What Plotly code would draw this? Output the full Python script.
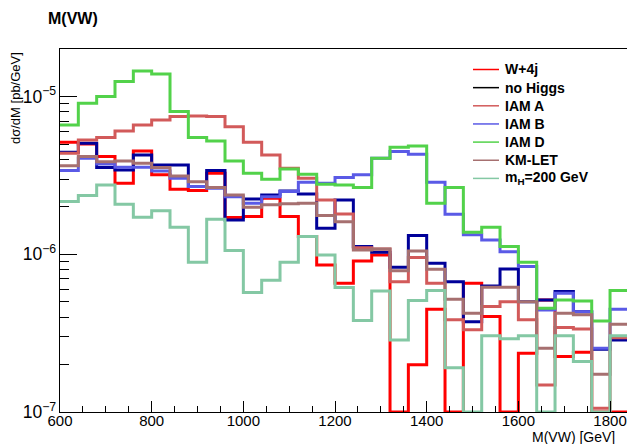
import plotly.graph_objects as go

# ---------------- data (40 GeV bins, 600 - 1840 GeV) ----------------
bin_edges = list(range(600, 1841, 40))

w4j = [5.14e-6, 5.01e-6, 4.17e-6, 2.82e-6, 4.52e-6, 3.19e-6, 2.585e-6, 2.535e-6, 3.27e-6, 1.71e-6,
       1.735e-6, 2.27e-6, 1.735e-6, 1.295e-6, 8.56e-7, 6.55e-7, 9.08e-7, 9.91e-7, 0, 1.99e-7,
       4.48e-7, 0, 6.55e-7, 4.03e-7, 0, 2.36e-7, 5.14e-7, 2.25e-7, 2.39e-7, 0, 0]
no_higgs = [4.44e-6, 5.06e-6, 3.55e-6, 3.43e-6, 4.27e-6, 3.69e-6, 3.69e-6, 2.69e-6, 3.40e-6, 1.65e-6,
            2.245e-6, 2.38e-6, 2.52e-6, 2.415e-6, 1.463e-6, 2.21e-6, 1.12e-6, 1.031e-6, 8.28e-7, 1.314e-6,
            8.78e-7, 6.71e-7, 3.74e-7, 6.3e-7, 8.08e-7, 5.01e-7, 5.14e-7, 5.80e-7, 4.33e-7, 2.5e-7, 2.86e-7]
iam_a = [4.37e-6, 5.31e-6, 5.50e-6, 6.06e-6, 6.61e-6, 7.11e-6, 7.47e-6, 7.54e-6, 7.47e-6, 6.45e-6,
         5.14e-6, 4.27e-6, 3.51e-6, 3.04e-6, 2.21e-6, 1.80e-6, 1.10e-6, 1.08e-6, 6.71e-7, 9.53e-7,
         6.55e-7, 3.84e-7, 3.32e-7, 4.66e-7, 5.01e-7, 3.84e-7, 1.485e-7, 3.43e-7, 3.36e-7, 1.056e-7, 2.96e-7]
iam_b = [3.40e-6, 4.06e-6, 3.74e-6, 3.57e-6, 3.57e-6, 3.38e-6, 3.04e-6, 2.69e-6, 2.62e-6, 2.32e-6,
         2.11e-6, 2.32e-6, 2.50e-6, 2.86e-6, 2.82e-6, 3.07e-6, 3.19e-6, 4.06e-6, 4.48e-6, 4.31e-6,
         2.86e-6, 1.795e-6, 1.33e-6, 1.234e-6, 1.04e-6, 8.36e-7, 4.44e-7, 5.66e-7, 4.33e-7, 2.54e-7, 4.48e-7]
iam_d = [6.61e-6, 9.08e-6, 1.00e-5, 1.245e-5, 1.455e-5, 1.393e-5, 8.04e-6, 5.50e-6, 5.24e-6, 3.91e-6,
         3.27e-6, 2.99e-6, 3.48e-6, 3.22e-6, 2.78e-6, 2.75e-6, 2.65e-6, 4.06e-6, 4.77e-6, 4.87e-6,
         2.11e-6, 2.65e-6, 1.38e-6, 1.485e-6, 1.12e-6, 8.91e-7, 4.55e-7, 5.14e-7, 5.06e-7, 3.78e-7, 5.89e-7]
km_let = [3.65e-6, 4.17e-6, 3.87e-6, 3.91e-6, 3.78e-6, 3.55e-6, 3.14e-6, 2.89e-6, 2.65e-6, 2.38e-6,
          1.99e-6, 2.06e-6, 2.09e-6, 2.11e-6, 1.76e-6, 1.61e-6, 1.066e-6, 1.08e-6, 7.88e-7, 1.05e-6,
          8.04e-7, 5.19e-7, 4.23e-7, 6.18e-7, 6.18e-7, 5.01e-7, 2.54e-7, 4.23e-7, 4.13e-7, 1.735e-7, 3.60e-7]
mh200 = [2.16e-6, 2.36e-6, 2.75e-6, 2.08e-6, 1.72e-6, 1.89e-6, 1.485e-6, 8.91e-7, 1.67e-6, 1.056e-6,
         5.72e-7, 6.85e-7, 8.91e-7, 1.295e-6, 9.91e-7, 6.15e-7, 3.80e-7, 5.86e-7, 2.86e-7, 5.09e-7,
         5.89e-7, 1.91e-7, 0, 3.05e-7, 2.91e-7, 3.05e-7, 0, 3.05e-7, 2.09e-7, 0, 3.04e-7]

series_names = ["W+4j", "no Higgs", "IAM A", "IAM B", "IAM D", "KM-LET", "m<sub>H</sub>=200 GeV"]
series_values = [w4j, no_higgs, iam_a, iam_b, iam_d, km_let, mh200]
line_colors = ["#ff0000", "#000099", "#d25a5a", "#5a5ae6", "#52d24a", "#a67070", "#84c8a4"]
legend_colors = ["#ff0000", "#000000", "#d25a5a", "#5a5ae6", "#52d24a", "#a67070", "#84c8a4"]

Y_MIN = 1e-7
Y_TOP_LOG = -4.698
X_MAX = 1837

# plot-area geometry in pixels (for placing legend / titles)
PX_L, PX_T, PW, PH = 60, 49, 567, 363


def px_to_paper(px, py):
    return (px - PX_L) / PW, 1 - (py - PX_T) / PH


fig = go.Figure()

for name, vals, col in zip(series_names, series_values, line_colors):
    yv = [max(v, Y_MIN) for v in vals]
    fig.add_trace(go.Scatter(
        x=bin_edges, y=yv + [yv[-1]], mode="lines", name=name,
        line=dict(shape="hv", color=col, width=3),
        showlegend=False, hoverinfo="skip"))

fig.update_layout(
    width=627, height=444,
    margin=dict(l=PX_L, r=0, t=PX_T, b=444 - PX_T - PH),
    paper_bgcolor="white", plot_bgcolor="white",
    font=dict(family="Liberation Sans, Arial, sans-serif", color="black"),
    showlegend=False,
    title=dict(text="<b>M(VW)</b>", x=48 / 627, xanchor="left", xref="container",
               y=1 - 18 / 444, yanchor="middle", yref="container",
               font=dict(size=16)),
)

fig.update_xaxes(
    range=[600, X_MAX], showgrid=False, zeroline=False,
    showline=True, linecolor="black", linewidth=1, mirror=True,
    ticks="inside", ticklen=11, tickwidth=1, tickcolor="black",
    tick0=600, dtick=200, tickfont=dict(size=15), ticklabeloverflow="allow",
    ticklabelstandoff=-5,
    minor=dict(ticks="inside", ticklen=6, dtick=50, tickcolor="black", showgrid=False),
)
fig.update_yaxes(
    type="log", range=[-7, Y_TOP_LOG], showgrid=False, zeroline=False,
    showline=True, linecolor="black", linewidth=1, mirror=True,
    ticks="inside", ticklen=17, tickwidth=1, tickcolor="black",
    dtick=1, exponentformat="power", tickfont=dict(size=14),
    minor=dict(ticks="inside", ticklen=9, dtick="D1", tickcolor="black", showgrid=False),
)

# legend (ROOT TLegend style: thin line samples, bold labels, no border)
for i, (name, col) in enumerate(zip(series_names, legend_colors)):
    row_y = 69.5 + 18.15 * i
    x0, y0 = px_to_paper(473, row_y)
    x1, _ = px_to_paper(499, row_y)
    fig.add_shape(type="line", xref="paper", yref="paper", x0=x0, x1=x1, y0=y0, y1=y0,
                  line=dict(color=col, width=1.5))
    tx, ty = px_to_paper(503, row_y)
    fig.add_annotation(text="<b>" + name + "</b>", showarrow=False, xref="paper", yref="paper",
                       x=tx, y=ty, xanchor="left", yanchor="middle",
                       font=dict(size=14))

ax, ay = px_to_paper(15, 50)
fig.add_annotation(text="dσ/dM [pb/GeV]", textangle=-90, showarrow=False,
                   xref="paper", yref="paper", x=ax, y=ay,
                   xanchor="center", yanchor="top", font=dict(size=13))
bx, by = px_to_paper(531, 446)
fig.add_annotation(text="M(VW) [GeV]", showarrow=False,
                   xref="paper", yref="paper", x=bx, y=by,
                   xanchor="left", yanchor="bottom", font=dict(size=14),
                   borderpad=0)

fig.write_html("out.html")
